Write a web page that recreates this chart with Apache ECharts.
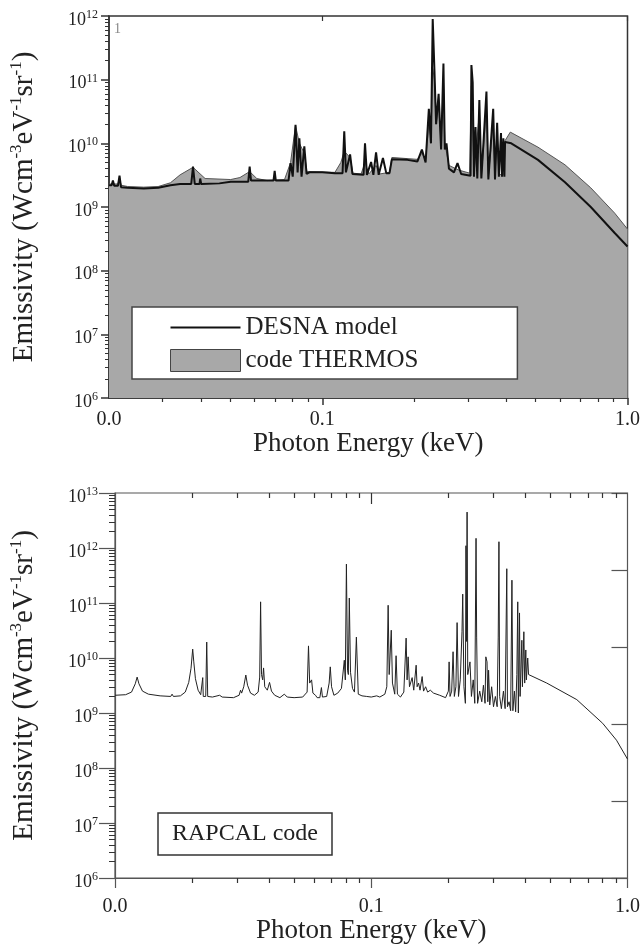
<!DOCTYPE html>
<html><head><meta charset="utf-8">
<script src="https://cdn.jsdelivr.net/npm/echarts@6/dist/echarts.min.js"></script>
<style>html,body{margin:0;padding:0;background:#fff}#c{width:643px;height:948px}</style>
</head><body><div id="c"></div>
<script>
// ---------- data (energy keV, emissivity W cm^-3 eV^-1 sr^-1) ----------
const desnaPoints = [
  [0.0200,2.2e9],[0.0204,2.2e9],[0.0206,2.6e9],[0.0208,2.15e9],[0.0214,2.15e9],[0.02165,3.1e9],[0.0219,2.05e9],
  [0.0230,2.0e9],[0.0260,1.95e9],[0.0290,2.0e9],[0.0318,2.2e9],[0.0342,2.3e9],[0.0372,2.3e9],[0.0377,4.3e9],
  [0.0382,2.3e9],[0.0396,2.3e9],[0.0398,2.8e9],[0.0401,2.3e9],[0.0460,2.35e9],[0.0501,2.5e9],[0.0572,2.5e9],
  [0.0578,4.3e9],[0.0584,2.6e9],[0.0692,2.6e9],[0.0698,3.7e9],[0.0704,2.6e9],[0.0775,2.6e9],[0.0787,4.9e9],
  [0.0800,3.0e9],[0.0817,1.95e10],[0.0830,3.5e9],[0.0841,1.2e10],[0.0855,3.0e9],[0.0873,9.0e9],[0.0888,3.3e9],
  [0.0907,3.5e9],[0.1000,3.5e9],[0.1100,3.4e9],[0.1165,3.4e9],[0.1180,1.55e10],[0.1195,3.5e9],[0.1233,6.7e9],
  [0.1255,3.3e9],[0.1365,3.2e9],[0.1380,1.0e10],[0.1400,3.2e9],[0.1445,5.1e9],[0.1470,3.2e9],[0.1500,7.2e9],
  [0.1530,3.2e9],[0.1580,5.9e9],[0.1620,3.4e9],[0.1660,3.4e9],[0.1690,5.6e9],[0.1900,5.5e9],[0.2050,5.2e9],
  [0.2120,8.0e9],[0.2180,5.0e9],[0.2234,3.5e10],[0.2270,1.0e10],[0.2300,9.0e11],[0.2330,1.4e11],[0.2360,2.0e10],
  [0.2405,6.0e10],[0.2450,8.0e9],[0.2494,1.8e11],[0.2520,8.0e9],[0.2552,1.0e10],[0.2600,4.0e9],[0.2700,3.5e9],
  [0.2773,4.9e9],[0.2850,3.3e9],[0.3060,3.1e9],[0.3080,1.7e11],[0.3110,9.0e10],[0.3140,3.0e9],[0.3177,1.8e10],
  [0.3220,2.8e9],[0.3270,4.8e10],[0.3320,2.8e9],[0.3450,6.5e10],[0.3500,2.7e9],[0.3630,3.5e10],[0.3680,2.7e9],
  [0.3740,2.1e10],[0.3790,3.0e9],[0.3850,1.45e10],[0.3880,3.0e9],[0.3920,1.2e10],[0.3950,3.0e9],[0.3970,1.05e10],
  [0.4160,1.0e10],[0.5090,5.5e9],[0.6240,2.45e9],[0.7580,1.0e9],[0.9080,3.9e8],[1.0000,2.4e8]
];
const thermosPoints = [
  [0.0200,2.3e9],[0.0204,2.3e9],[0.0206,2.5e9],[0.0208,2.3e9],[0.0214,2.3e9],[0.02165,2.9e9],[0.0219,2.2e9],
  [0.0230,2.1e9],[0.0260,2.05e9],[0.0290,2.1e9],[0.0318,2.4e9],[0.0342,3.2e9],[0.0377,4.2e9],[0.0413,2.8e9],
  [0.0501,2.7e9],[0.0537,2.9e9],[0.0578,3.6e9],[0.0610,2.8e9],[0.0660,2.6e9],[0.0752,2.7e9],[0.0787,5.0e9],
  [0.0817,1.9e10],[0.0841,1.0e10],[0.0873,7.0e9],[0.0890,3.6e9],[0.1100,3.5e9],[0.1150,5.0e9],[0.1180,7.5e9],
  [0.1233,6.0e9],[0.1260,3.4e9],[0.1340,3.3e9],[0.1380,5.0e9],[0.1420,3.3e9],[0.1500,4.5e9],[0.1540,3.3e9],
  [0.1660,3.5e9],[0.1690,6.0e9],[0.2050,5.6e9],[0.2120,7.0e9],[0.2180,5.5e9],[0.2234,2.0e10],[0.2270,1.2e10],
  [0.2300,1.5e11],[0.2330,1.0e11],[0.2360,2.0e10],[0.2405,4.0e10],[0.2450,1.0e10],[0.2494,1.0e11],[0.2520,1.0e10],
  [0.2600,4.5e9],[0.2800,3.8e9],[0.3040,3.4e9],[0.3080,8.0e10],[0.3140,3.3e9],[0.3270,3.0e10],[0.3320,3.0e9],
  [0.3450,3.5e10],[0.3500,3.0e9],[0.3630,2.0e10],[0.3680,3.0e9],[0.3740,1.5e10],[0.3790,3.2e9],[0.3940,3.3e9],
  [0.3970,1.1e10],[0.4130,1.5e10],[0.5090,8.7e9],[0.6240,4.6e9],[0.7580,2.0e9],[0.9080,8.0e8],[1.0000,4.5e8]
];
const rapcalPoints = [
  [0.0100,2.1e9],[0.0110,2.15e9],[0.0116,2.4e9],[0.0120,3.4e9],[0.0122,4.5e9],[0.0124,3.4e9],[0.0128,2.5e9],
  [0.0135,2.2e9],[0.0150,2.05e9],[0.0165,2.0e9],[0.0167,2.2e9],[0.0169,2.0e9],[0.0180,2.05e9],[0.0188,2.4e9],
  [0.0194,3.6e9],[0.0198,6.5e9],[0.0201,1.45e10],[0.0203,8.5e9],[0.0206,4.2e9],[0.0211,2.6e9],[0.0216,2.15e9],
  [0.0219,2.1e9],[0.0220,4.4e9],[0.0221,2.0e9],[0.0226,2.0e9],[0.0228,1.95e10],[0.0230,2.0e9],[0.0240,1.95e9],
  [0.0256,2.1e9],[0.0262,1.95e9],[0.0290,1.9e9],[0.0305,2.1e9],[0.0309,2.6e9],[0.0312,2.3e9],[0.0318,3.0e9],
  [0.0324,4.9e9],[0.0329,3.2e9],[0.0338,2.3e9],[0.0350,2.1e9],[0.0362,2.4e9],[0.0367,4.5e9],[0.0370,1.05e11],
  [0.0373,5.0e9],[0.0377,4.0e9],[0.0380,6.6e9],[0.0384,3.0e9],[0.0393,2.6e9],[0.0401,3.6e9],[0.0408,2.5e9],
  [0.0420,2.1e9],[0.0440,1.9e9],[0.0458,2.2e9],[0.0470,1.95e9],[0.0500,1.9e9],[0.0540,1.95e9],[0.0562,2.4e9],
  [0.0569,1.66e10],[0.0575,3.5e9],[0.0585,4.0e9],[0.0592,2.3e9],[0.0606,2.1e9],[0.0615,1.9e9],[0.0630,1.9e9],
  [0.0639,2.9e9],[0.0645,1.95e9],[0.0670,2.0e9],[0.0685,3.5e9],[0.0692,6.9e9],[0.0700,3.0e9],[0.0715,2.1e9],
  [0.0740,2.3e9],[0.0765,2.8e9],[0.0785,9.1e9],[0.0792,4.0e9],[0.0800,5.1e11],[0.0808,6.0e9],[0.0814,5.0e9],
  [0.0821,1.23e11],[0.0830,5.5e9],[0.0845,2.8e9],[0.0860,2.4e9],[0.0875,2.4e10],[0.0890,2.2e9],[0.0920,2.05e9],
  [0.0960,2.0e9],[0.1000,1.95e9],[0.1050,2.05e9],[0.1080,1.95e9],[0.1130,2.2e9],[0.1150,3.0e9],[0.1164,9.1e10],
  [0.1175,5.0e9],[0.1197,3.2e10],[0.1210,3.5e9],[0.1235,2.2e9],[0.1250,1.1e10],[0.1265,2.2e9],[0.1300,1.95e9],
  [0.1340,2.4e9],[0.1368,2.3e10],[0.1380,4.0e9],[0.1393,1.05e10],[0.1410,3.0e9],[0.1444,4.4e9],[0.1465,2.6e9],
  [0.1497,7.4e9],[0.1510,3.0e9],[0.1530,3.5e9],[0.1550,2.6e9],[0.1580,4.6e9],[0.1600,2.5e9],[0.1630,3.0e9],
  [0.1660,2.4e9],[0.1700,2.6e9],[0.1750,2.3e9],[0.1850,2.1e9],[0.1950,1.9e9],[0.1980,1.85e9],[0.2000,2.5e9],
  [0.2013,8.5e9],[0.2030,2.0e9],[0.2060,2.5e9],[0.2086,1.3e10],[0.2110,2.0e9],[0.2140,3.0e9],[0.2163,4.4e10],
  [0.2190,2.0e9],[0.2225,4.0e9],[0.2260,3.0e10],[0.2275,1.45e11],[0.2300,3.0e9],[0.2330,1.5e9],[0.2342,1.1e12],
  [0.2356,2.0e10],[0.2366,4.5e12],[0.2380,5.0e9],[0.2428,8.5e9],[0.2460,2.0e9],[0.2500,4.0e9],[0.2535,1.5e9],
  [0.2564,1.5e12],[0.2578,2.4e10],[0.2600,1.5e9],[0.2650,2.5e9],[0.2700,1.6e9],[0.2740,3.2e9],[0.2780,1.5e9],
  [0.2800,1.05e10],[0.2830,8.5e9],[0.2850,1.6e9],[0.2870,6.0e9],[0.2900,1.4e9],[0.2950,3.0e9],[0.3000,1.3e9],
  [0.3050,2.0e9],[0.3100,1.3e9],[0.3130,2.4e10],[0.3150,1.3e12],[0.3170,2.0e9],[0.3220,1.2e9],[0.3280,2.5e9],
  [0.3330,1.2e9],[0.3380,4.2e11],[0.3400,1.3e9],[0.3450,1.6e9],[0.3500,1.1e9],[0.3540,2.6e11],[0.3570,1.1e9],
  [0.3620,2.5e9],[0.3660,1.05e9],[0.3700,5.0e9],[0.3730,1.05e11],[0.3750,1.0e9],[0.3790,6.6e10],[0.3810,2.0e9],
  [0.3870,2.1e10],[0.3890,3.0e9],[0.3940,3.0e10],[0.3970,3.5e9],[0.4010,1.4e10],[0.4030,4.0e9],[0.4080,1.0e10],
  [0.4110,5.0e9],[0.4160,5.3e9],[0.4840,3.5e9],[0.6340,1.75e9],[0.8000,6.5e8],[0.9060,3.2e8],[1.0000,1.45e8]
];
// ---------- tick values ----------
const topXLabels = [0.02, 0.1, 1];
const topXMajor = [0.1, 1];
const topXMinor = [0.03,0.04,0.05,0.06,0.07,0.08,0.09,0.2,0.3,0.4,0.5,0.6,0.7,0.8,0.9];
const botXLabels = [0.01, 0.1, 1];
const botXMajor = [0.01, 0.1, 1];
const botXMinor = [0.02,0.03,0.04,0.05,0.06,0.07,0.08,0.09,0.2,0.3,0.4,0.5,0.6,0.7,0.8,0.9];
const topYDecades = [1e6,1e7,1e8,1e9,1e10,1e11,1e12];
const botYDecades = [1e6,1e7,1e8,1e9,1e10,1e11,1e12,1e13];

function minorsOf(decades){ const out=[]; for(let i=0;i<decades.length-1;i++){ for(let k=2;k<=9;k++) out.push(k*decades[i]); } return out; }

const FONT = "'Liberation Serif','Times New Roman',serif";
const INK = '#222';
const AX = '#333';

const yLabelRich = {
  b:{fontFamily:FONT,fontSize:18,color:INK,lineHeight:20,verticalAlign:'bottom'},
  s:{fontFamily:FONT,fontSize:12,color:INK,lineHeight:12,verticalAlign:'top'}
};
const nameRich = {
  b:{fontFamily:FONT,fontSize:29,color:INK,lineHeight:31,verticalAlign:'bottom'},
  s:{fontFamily:FONT,fontSize:17,color:INK,lineHeight:17,verticalAlign:'top'}
};
const yName = '{b|Emissivity (Wcm}{s|-3}{b|eV}{s|-1}{b|sr}{s|-1}{b|)}';
function yFmt(v){ return '{b|10}{s|' + Math.round(Math.log10(v)) + '}'; }
function xFmt(v){ return Number(v).toFixed(1); }

function tickOnlyX(grid, min, max, pos, vals, len, inside){
  return {type:'log', gridIndex:grid, min:min, max:max, position:pos,
    axisLine:{show:false}, splitLine:{show:false}, axisLabel:{show:false},
    axisTick:{show:true, inside:inside, length:len, customValues:vals, lineStyle:{color:AX,width:1.2}}};
}
function tickOnlyY(grid, min, max, vals, len){
  return {type:'log', gridIndex:grid, min:min, max:max, position:'left',
    axisLine:{show:false}, splitLine:{show:false}, axisLabel:{show:false},
    axisTick:{show:true, inside:false, length:len, customValues:vals, lineStyle:{color:AX,width:1}}};
}

const chart = echarts.init(document.getElementById('c'), null, {renderer:'canvas'});
chart.setOption({
  animation:false,
  backgroundColor:'#fff',
  grid:[
    {left:108, top:16, width:523, height:382, show:true, borderColor:AX, borderWidth:1.5, backgroundColor:'transparent'},
    {left:114, top:493, width:514, height:385, show:true, borderColor:'#555', borderWidth:1.2, backgroundColor:'transparent'}
  ],
  xAxis:[
    {type:'log', gridIndex:0, min:0.02, max:1, position:'bottom',
     name:'Photon Energy (keV)', nameLocation:'middle', nameGap:32,
     nameTextStyle:{fontFamily:FONT, fontSize:27, color:INK},
     axisLine:{show:true, lineStyle:{color:AX,width:1.5}}, splitLine:{show:false},
     axisTick:{show:true, inside:false, length:7, customValues:topXMajor, lineStyle:{color:AX,width:1.5}},
     axisLabel:{show:true, customValues:topXLabels, formatter:xFmt, margin:12, fontFamily:FONT, fontSize:20, color:INK}},
    tickOnlyX(0, 0.02, 1, 'bottom', topXMinor, 4, false),
    tickOnlyX(0, 0.02, 1, 'top', topXMajor, 5, true),
    {type:'log', gridIndex:1, min:0.01, max:1, position:'bottom',
     name:'Photon Energy (keV)', nameLocation:'middle', nameGap:33,
     nameTextStyle:{fontFamily:FONT, fontSize:27, color:INK},
     axisLine:{show:true, lineStyle:{color:'#555',width:1.2}}, splitLine:{show:false},
     axisTick:{show:true, inside:false, length:10, customValues:botXMajor, lineStyle:{color:'#555',width:1.2}},
     axisLabel:{show:true, customValues:botXLabels, formatter:xFmt, margin:19, fontFamily:FONT, fontSize:20, color:INK}},
    tickOnlyX(1, 0.01, 1, 'bottom', botXMinor, 5, false),
    tickOnlyX(1, 0.01, 1, 'top', [0.1], 11, true),
    tickOnlyX(1, 0.01, 1, 'top', botXMinor, 5, true)
  ],
  yAxis:[
    {type:'log', gridIndex:0, min:1e6, max:1e12, position:'left',
     name:yName, nameLocation:'middle', nameGap:70, nameTextStyle:{rich:nameRich},
     axisLine:{show:true, lineStyle:{color:AX,width:1.5}}, splitLine:{show:false},
     axisTick:{show:true, inside:false, length:8, customValues:topYDecades, lineStyle:{color:AX,width:1.5}},
     axisLabel:{show:true, customValues:topYDecades, formatter:yFmt, rich:yLabelRich, margin:11, padding:[6,0,0,0]}},
    tickOnlyY(0, 1e6, 1e12, minorsOf(topYDecades), 4),
    {type:'log', gridIndex:1, min:1e6, max:1e13, position:'left',
     name:yName, nameLocation:'middle', nameGap:76, nameTextStyle:{rich:nameRich},
     axisLine:{show:true, lineStyle:{color:'#555',width:1.2}}, splitLine:{show:false},
     axisTick:{show:true, inside:false, length:16, customValues:botYDecades, lineStyle:{color:'#555',width:1.2}},
     axisLabel:{show:true, customValues:botYDecades, formatter:yFmt, rich:yLabelRich, margin:17, padding:[6,0,0,0]}},
    tickOnlyY(1, 1e6, 1e13, minorsOf(botYDecades), 6),
    {type:'value', gridIndex:1, min:0, max:5, interval:1, position:'right',
     axisLine:{show:false}, splitLine:{show:false}, axisLabel:{show:false},
     axisTick:{show:true, inside:true, length:16, lineStyle:{color:'#555',width:1.2}}}
  ],
  legend:{
    data:[
      {name:'DESNA model', icon:'path://M0,0 M0,10 L70,10 L70,12 L0,12 Z M70,22', itemStyle:{color:'#111', borderWidth:0}},
      {name:'code THERMOS', icon:'rect', itemStyle:{color:'#a8a8a8', borderColor:'#444', borderWidth:1}}
    ],
    orient:'vertical', left:132, top:307, padding:[8,99,6,38],
    itemWidth:70, itemHeight:22, itemGap:8, selectedMode:false,
    backgroundColor:'#fff', borderColor:'#444', borderWidth:1.5, borderRadius:0,
    textStyle:{fontFamily:FONT, fontSize:25, color:INK}
  },
  title:{
    text:'RAPCAL code', left:158, top:813, padding:[9,14,9,14],
    borderColor:'#333', borderWidth:1.5, backgroundColor:'#fff',
    textStyle:{fontFamily:FONT, fontSize:24, fontWeight:'normal', color:INK}
  },
  graphic:[
    {type:'text', left:114, top:22, style:{text:'1', fontFamily:FONT, fontSize:14, fill:'#888'}}
  ],
  series:[
    {name:'code THERMOS', type:'line', xAxisIndex:0, yAxisIndex:0, data:thermosPoints,
     symbol:'none', color:'#a8a8a8', lineStyle:{color:'#555', width:1},
     areaStyle:{color:'#a8a8a8', opacity:1, origin:'start'}, z:2},
    {name:'DESNA model', type:'line', xAxisIndex:0, yAxisIndex:0, data:desnaPoints,
     symbol:'none', color:'#111', lineStyle:{color:'#111', width:2}, z:3},
    {name:'RAPCAL code', type:'line', xAxisIndex:3, yAxisIndex:2, data:rapcalPoints,
     symbol:'none', color:'#222', lineStyle:{color:'#222', width:1}, z:3}
  ]
});
</script></body></html>
